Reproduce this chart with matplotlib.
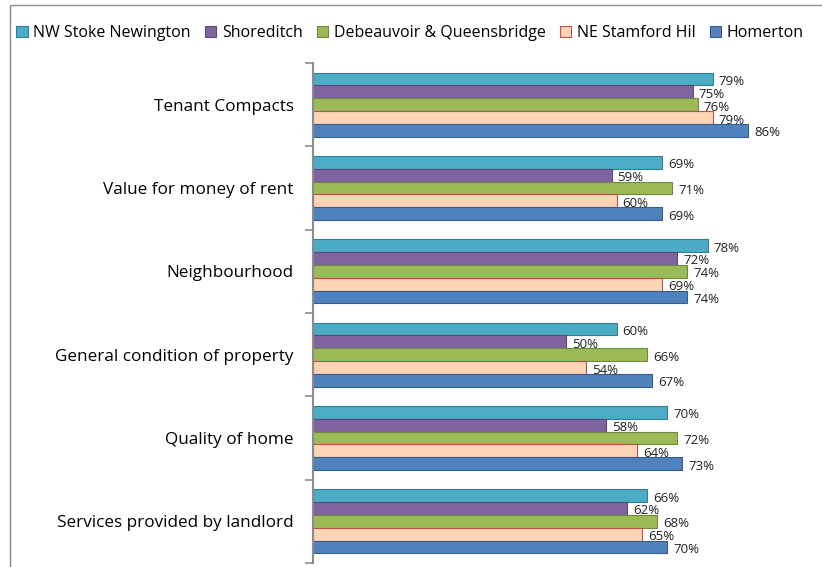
import matplotlib
matplotlib.use("Agg")
from matplotlib import pyplot as plt
from matplotlib.patches import Rectangle
import numpy as np

plt.rcParams['font.family'] = ['Open Sans', 'DejaVu Sans']

kategorie = ["Tenant Compacts", "Value for money of rent", "Neighbourhood",
             "General condition of property", "Quality of home",
             "Services provided by landlord"]
serie = ["NW Stoke Newington", "Shoreditch", "Debeauvoir & Queensbridge",
         "NE Stamford Hil", "Homerton"]
nw_stoke = [79, 69, 78, 60, 70, 66]
shoreditch = [75, 59, 72, 50, 58, 62]
debeauvoir = [76, 71, 74, 66, 72, 68]
ne_stamford = [79, 60, 69, 54, 64, 65]
homerton = [86, 69, 74, 67, 73, 70]
dane = [nw_stoke, shoreditch, debeauvoir, ne_stamford, homerton]

kolory = ["#4BACC6", "#8064A2", "#9BBB59", "#FCD5B5", "#4F81BD"]
krawedzie = ["#357d91", "#5c4776", "#71883f", "#C0504D", "#385d8a"]

fig = plt.figure(figsize=(8.22, 5.67), dpi=100, facecolor="white")
# ramka wykresu
fig.patches.append(Rectangle((10/822, -0.1), 1.0, (567-5)/567 + 0.1,
                             transform=fig.transFigure, fill=False,
                             edgecolor="#8c8c8c", linewidth=1.0))

ax = fig.add_axes([313/822, 4/567, 506/822, 500/567])

y = np.arange(len(kategorie))
szer = 0.77 / len(serie)
for i, (wart, nazwa) in enumerate(zip(dane, serie)):
    pos = y - 0.385 + szer * (i + 0.5)
    ax.barh(pos, wart, height=szer, color=kolory[i], edgecolor=krawedzie[i],
            linewidth=0.8, label=nazwa)
    for p, v in zip(pos, wart):
        ax.text(v + 1.2, p + 0.03, f"{v}%", va="center", ha="left",
                fontsize=9.5, color="#222222")

ax.set_xlim(0, 100)
ax.set_ylim(len(kategorie) - 0.5, -0.5)
ax.set_yticks(y)
ax.set_yticklabels(kategorie, fontsize=12.3)
ax.set_yticks(np.arange(len(kategorie) + 1) - 0.5, minor=True)
ax.tick_params(axis="y", which="major", length=0, pad=14)
ax.tick_params(axis="y", which="minor", length=6, color="#8c8c8c", width=1.2)
ax.set_xticks([])
for s in ["top", "right", "bottom"]:
    ax.spines[s].set_visible(False)
ax.spines["left"].set_color("#8c8c8c")
ax.spines["left"].set_linewidth(1.5)

fig.legend(loc="center", bbox_to_anchor=(410/822, 1 - 33/567), ncol=5,
           frameon=False, fontsize=11.5, handlelength=0.7, handleheight=0.7,
           handletextpad=0.35, columnspacing=0.9)

fig.savefig("out.png", dpi=100, facecolor="white")
